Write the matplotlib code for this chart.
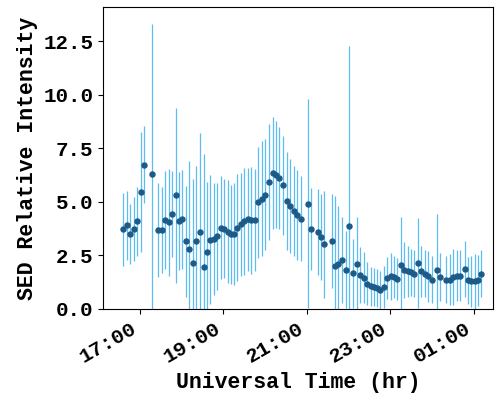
import datetime as dt
import matplotlib
matplotlib.use('Agg')
import matplotlib.pyplot as plt
import matplotlib.dates as mdates

# observation times (UT) and relative intensity with its uncertainty
times = ['16:36', '16:41', '16:46', '16:51', '16:56', '17:01', '17:06', '17:17',
         '17:26', '17:31', '17:36', '17:41', '17:46', '17:52', '17:56', '18:00',
         '18:06', '18:11', '18:16', '18:21', '18:26', '18:32', '18:36', '18:41',
         '18:47', '18:51', '18:56', '19:01', '19:06', '19:11', '19:15', '19:20',
         '19:25', '19:30', '19:35', '19:40', '19:45', '19:50', '19:55', '20:00',
         '20:05', '20:11', '20:15', '20:20', '20:26', '20:31', '20:36', '20:41',
         '20:46', '20:51', '21:02', '21:06', '21:16', '21:21', '21:25', '21:36',
         '21:40', '21:45', '21:50', '21:56', '22:01', '22:06', '22:12', '22:17',
         '22:22', '22:27', '22:32', '22:37', '22:41', '22:46', '22:51', '22:56',
         '23:01', '23:05', '23:10', '23:15', '23:20', '23:25', '23:30', '23:34',
         '23:40', '23:45', '23:50', '23:55', '00:00', '00:07', '00:12', '00:21',
         '00:26', '00:31', '00:36', '00:41', '00:48', '00:52', '00:57', '01:02',
         '01:07', '01:11']
intensity = [3.71, 3.90, 3.48, 3.74, 4.09, 5.47, 6.74, 6.30,
             3.68, 3.68, 4.15, 4.05, 4.42, 5.30, 4.10, 4.18,
             3.16, 2.80, 2.15, 3.16, 3.60, 1.95, 2.65, 3.24,
             3.27, 3.40, 3.80, 3.75, 3.60, 3.48, 3.50, 3.80,
             3.95, 4.10, 4.18, 4.15, 4.15, 4.98, 5.15, 5.33,
             5.92, 6.35, 6.27, 6.12, 5.77, 5.04, 4.80, 4.56,
             4.37, 4.22, 4.92, 3.74, 3.60, 3.35, 3.02, 3.18,
             1.99, 2.10, 2.27, 1.82, 3.87, 1.66, 2.10, 1.58,
             1.46, 1.17, 1.05, 1.02, 0.97, 0.89, 1.02, 1.44,
             1.52, 1.49, 1.40, 2.07, 1.83, 1.75, 1.71, 1.64,
             2.15, 1.75, 1.64, 1.52, 1.36, 1.83, 1.49, 1.36,
             1.36, 1.49, 1.55, 1.55, 1.86, 1.33, 1.28, 1.28,
             1.33, 1.64]
error = [1.7, 1.6, 1.4, 1.5, 1.6, 2.8, 1.8, 7.0,
         2.2, 2.0, 2.3, 2.5, 2.0, 4.1, 2.3, 2.3,
         2.6, 4.1, 3.9, 3.5, 4.6, 5.3, 3.3, 3.0,
         2.6, 2.5, 2.4, 2.3, 2.4, 2.3, 2.4, 2.5,
         2.4, 2.5, 2.4, 2.5, 2.4, 2.6, 2.7, 2.6,
         2.7, 2.6, 2.5, 2.4, 2.3, 2.3, 2.2, 2.1,
         2.1, 2.0, 4.9, 1.9, 2.0, 2.0, 2.5, 2.2,
         3.3, 2.7, 2.0, 1.8, 8.4, 1.6, 2.2, 1.3,
         1.2, 1.0, 0.9, 0.9, 0.9, 0.9, 1.0, 1.0,
         1.1, 1.0, 1.0, 2.2, 1.3, 1.2, 1.1, 1.1,
         2.1, 1.2, 1.1, 1.2, 1.1, 2.6, 1.1, 1.1,
         1.2, 1.3, 1.2, 1.2, 1.3, 1.1, 1.2, 1.3,
         1.2, 1.1]

day = dt.datetime(2017, 9, 7)
t = []
for s in times:
    h, m = map(int, s.split(':'))
    d = day + dt.timedelta(days=1) if h < 12 else day
    t.append(d.replace(hour=h, minute=m))

plt.rcParams['font.family'] = ['Liberation Mono', 'DejaVu Sans Mono']
plt.rcParams['font.weight'] = 'bold'

fig = plt.figure(figsize=(5.01, 3.96), dpi=100)
ax = fig.add_axes([0.206, 0.22, 0.778, 0.762])

ax.errorbar(t, intensity, yerr=error, fmt='o', color='#1c5a88', ms=3.6,
            ecolor='#5cbdee', elinewidth=0.9, capsize=0)

ax.set_xlim(day.replace(hour=16, minute=7), day + dt.timedelta(days=1, hours=1, minutes=28))
ax.set_ylim(0, 14.1)
ax.set_yticks([0, 2.5, 5, 7.5, 10, 12.5])
ax.xaxis.set_major_locator(mdates.HourLocator(byhour=[17, 19, 21, 23, 1]))
ax.xaxis.set_major_formatter(mdates.DateFormatter('%H:%M'))
ax.tick_params(labelsize=15)
plt.setp(ax.get_xticklabels(), rotation=30, ha='right', fontweight='bold')
plt.setp(ax.get_yticklabels(), fontweight='bold')

ax.set_xlabel('Universal Time (hr)', fontsize=15.5, fontweight='bold')
ax.set_ylabel('SED Relative Intensity', fontsize=15.5, fontweight='bold')

fig.savefig('out.png', dpi=100)
